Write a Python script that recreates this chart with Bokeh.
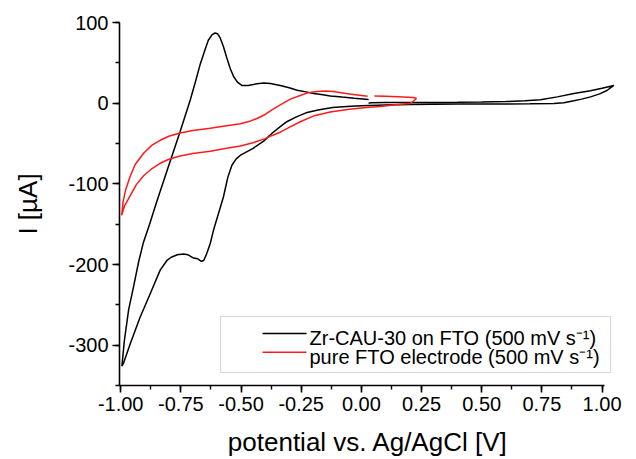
from bokeh.plotting import figure
from bokeh.models import (Range1d, SingleIntervalTicker, NumeralTickFormatter,
                          BoxAnnotation, Label)
from bokeh.embed import file_html
from bokeh.resources import INLINE

# ---- data ----
x_ticks_interval = 0.25
y_ticks_interval = 100

label_zr = "Zr-CAU-30 on FTO (500 mV s\u207b\u00b9)"
label_fto = "pure FTO electrode (500 mV s\u207b\u00b9)"

zr_potential = [
    0.03, 0.04, 0.1, 0.2, 0.3, 0.4, 0.5, 0.6, 0.68, 0.744, 0.814, 0.883, 0.952, 1.0, 1.049,
    1.022, 0.99, 0.952, 0.915, 0.883, 0.841, 0.8, 0.7, 0.6, 0.5, 0.4, 0.3, 0.2, 0.1, 0.0,
    -0.06, -0.12, -0.18, -0.23, -0.27, -0.31, -0.337, -0.37, -0.406, -0.45, -0.5, -0.52,
    -0.538, -0.555, -0.573, -0.595, -0.614, -0.628, -0.642, -0.655, -0.665, -0.68, -0.697,
    -0.72, -0.74, -0.765, -0.79, -0.808, -0.836, -0.877, -0.919, -0.96, -0.988, -0.995,
    -0.985, -0.967, -0.947, -0.925, -0.905, -0.88, -0.85, -0.80, -0.753, -0.711, -0.69,
    -0.669, -0.65, -0.636, -0.62, -0.608, -0.597, -0.587, -0.573, -0.559, -0.545, -0.531,
    -0.515, -0.497, -0.47, -0.434, -0.405, -0.378, -0.337, -0.3, -0.267, -0.23, -0.198,
    -0.16, -0.129, -0.08, -0.03, 0.03,
]
zr_current = [
    0.0, 0.5, 0.8, 0.7, 0.9, 1.0, 1.3, 2.0, 3.0, 4.2, 7.8, 12.0, 15.5, 18.5, 22.0,
    16.0, 11.5, 7.8, 5.0, 3.0, 0.5, -0.3, -0.8, -1.0, -1.0, -1.0, -1.2, -1.5, -2.2, -3.2,
    -4.2, -5.5, -8.5, -12, -17, -23, -29, -37, -47, -56, -64, -69,
    -77, -92, -116, -138, -157, -174, -186, -195, -196, -193, -192,
    -188, -187, -188, -191, -195, -207, -236, -265, -298, -322, -326,
    -295, -256, -228, -196, -172, -150, -122, -77, -35, 4, 26,
    49, 66, 78, 85, 87, 86, 81, 70, 56, 43, 33,
    26, 22, 22, 24, 25, 24.5, 22, 19, 16, 14, 12,
    10.5, 9, 7.5, 6, 4.6,
]

fto_potential = [
    0.054, 0.1, 0.15, 0.217, 0.229, 0.204, 0.15, 0.079, 0.02, -0.05, -0.13, -0.2, -0.254,
    -0.3, -0.337, -0.37, -0.4, -0.45, -0.503, -0.56, -0.628, -0.7, -0.753, -0.8, -0.836,
    -0.87, -0.905, -0.935, -0.961, -0.985, -0.996,
    -0.99, -0.98, -0.961, -0.94, -0.905, -0.87, -0.836, -0.8, -0.753, -0.7, -0.628, -0.56,
    -0.503, -0.46, -0.434, -0.4, -0.365, -0.33, -0.295, -0.254, -0.226, -0.185, -0.15,
    -0.117, -0.05, 0.026,
]
fto_current = [
    9.0, 8.6, 8.0, 7.0, 5.8, -0.4, -1.8, -4.0, -5.5, -7.5, -11, -16, -23,
    -30, -36, -40, -44, -49, -53, -56, -59.5, -62.5, -65.5, -69.5, -74.5,
    -81, -90, -101, -115, -128, -139,
    -122, -108, -91, -76, -62, -52, -46, -41, -37, -34, -31, -28,
    -25.5, -22, -19, -14, -7, -1, 5, 9.5, 12.5, 14.5, 15,
    14.5, 11.5, 8.7,
]

FONT = "Liberation Sans"
ZR_COLOR = "black"
FTO_COLOR = "#ff1a1a"

p = figure(width=636, height=459, output_backend="svg", toolbar_location=None,
           x_range=Range1d(-1.005, 1.06), y_range=Range1d(-350, 100),
           min_border_left=119, min_border_right=20, min_border_top=22,
           min_border_bottom=74)
p.grid.visible = False
p.outline_line_color = None
p.background_fill_color = "white"
p.border_fill_color = "white"

p.line(zr_potential, zr_current, line_color=ZR_COLOR, line_width=1.5)
p.line(fto_potential, fto_current, line_color=FTO_COLOR, line_width=1.5)

p.xaxis.ticker = SingleIntervalTicker(interval=x_ticks_interval, num_minor_ticks=2)
p.yaxis.ticker = SingleIntervalTicker(interval=y_ticks_interval, num_minor_ticks=2)
p.xaxis.formatter = NumeralTickFormatter(format="0.00")
p.yaxis.formatter = NumeralTickFormatter(format="0")
p.xaxis.bounds = (-1.005, 1.01)
p.xaxis.axis_label = "potential vs. Ag/AgCl [V]"
p.yaxis.axis_label = "I [\u00b5A]"

for ax in (p.xaxis[0], p.yaxis[0]):
    ax.axis_line_width = 1.6
    ax.axis_line_color = "black"
    ax.major_tick_line_width = 1.6
    ax.minor_tick_line_width = 1.4
    ax.major_tick_line_color = "black"
    ax.minor_tick_line_color = "black"
    ax.major_tick_in = 0
    ax.major_tick_out = 7
    ax.minor_tick_in = 0
    ax.minor_tick_out = 4
    ax.major_label_text_font = FONT
    ax.major_label_text_font_size = "20px"
    ax.major_label_text_color = "black"
    ax.major_label_standoff = 4
    ax.axis_label_text_font = FONT
    ax.axis_label_text_font_size = "26px"
    ax.axis_label_text_font_style = "normal"
    ax.axis_label_text_color = "black"

p.xaxis.axis_label_standoff = 13
p.yaxis.axis_label_standoff = 22

# ---- legend (drawn in screen units relative to the plot frame) ----
scr = dict(left_units="screen", right_units="screen",
           top_units="screen", bottom_units="screen")
p.add_layout(BoxAnnotation(left=101, right=491, bottom=13, top=69,
                           fill_color="white", fill_alpha=1.0,
                           line_color="#7f7f7f", line_width=1.2, **scr))
rows = [(label_zr, ZR_COLOR, 52.0, 47.5), (label_fto, FTO_COLOR, 33.3, 29.0)]
for text, color, y_line, y_text in rows:
    p.add_layout(BoxAnnotation(left=143, right=187, bottom=y_line - 0.75, top=y_line + 0.75,
                               fill_color=color, fill_alpha=1.0, line_color=None, **scr))
    p.add_layout(Label(x=190, y=y_text, x_units="screen", y_units="screen", text=text,
                       text_font=FONT, text_font_size="20px", text_color="black",
                       text_baseline="middle", text_align="left"))

open("out.html", "w").write(file_html(p, INLINE))
